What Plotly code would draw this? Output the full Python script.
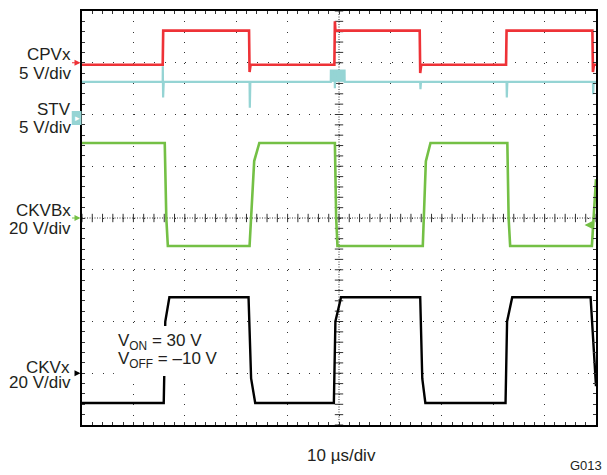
import numpy as np
import plotly.graph_objects as go

# ---------------- data (time in µs, amplitude in volts) ----------------
# Channel settings: volts per division and ground-marker offset (divisions from centre)
CPVX_VDIV, CPVX_OFFSET = 5.0, 3.0
STV_VDIV, STV_OFFSET = 5.0, 1.95
CKVB_VDIV, CKVB_OFFSET = 20.0, 0.0
CKV_VDIV, CKV_OFFSET = 20.0, -3.0

CPVX_T = [0, 15.7, 15.8, 32.5, 32.6, 32.8, 49.1, 49.2, 49.3, 65.7, 65.8, 66.0,
          82.5, 82.6, 99.3, 99.4, 99.6, 100]
CPVX_V = [-0.2, -0.2, 3.1, 3.1, -0.9, -0.2, -0.2, 4.0, 3.1, 3.1, -1.0, -0.2,
          -0.2, 3.1, 3.1, -0.9, -0.2, -0.2]

STV_T = [0, 15.7, 15.72, 15.78, 15.9, 32.6, 32.65, 32.75, 48.4, 48.42, 49.15, 49.2,
         49.25, 51.08, 51.1, 65.8, 65.85, 65.95, 82.6, 82.65, 82.75, 99.4, 99.45,
         99.55, 100]
STV_V = [3.4, 3.4, 4.9, 1.9, 3.4, 3.4, 0.9, 3.4, 3.4, 4.5, 4.5, 2.8,
         4.5, 4.5, 3.4, 3.4, 2.7, 3.4, 3.4, 1.9, 3.4, 3.4, 2.2,
         3.4, 3.4]
STV_BURST_T = [48.4, 51.1, 51.1, 48.4]
STV_BURST_V = [3.4, 3.4, 4.5, 4.5]

CKVB_T = [0, 16.1, 16.4, 16.7, 32.6, 33.5, 34.5, 49.2, 49.45, 49.7, 66.3, 66.9,
          67.8, 82.75, 83.0, 83.3, 99.2, 100]
CKVB_V = [29.0, 29.0, 0.0, -10.8, -10.8, 22.0, 29.0, 29.0, 0.0, -10.8, -10.8, 22.0,
          29.0, 29.0, 0.0, -10.8, -10.8, 15.0]

CKV_T = [0, 15.9, 16.2, 17.0, 32.4, 32.9, 33.7, 49.0, 49.3, 50.4, 65.8, 66.2,
         66.8, 82.4, 82.7, 83.7, 98.95, 100]
CKV_V = [-11.5, -11.5, 20.0, 29.4, 29.4, -2.0, -11.5, -11.5, 20.0, 29.4, 29.4, -2.0,
         -11.5, -11.5, 20.0, 29.4, 29.4, -5.0]

X_LABEL = "10 µs/div"
FIG_ID = "G013"

# ---------------- figure ----------------
W, H = 607, 475
ML, MR, MT, MB = 82, 9, 11, 50
PW, PH = W - ML - MR, H - MT - MB

FONT = "Liberation Sans, Arial, Helvetica, sans-serif"
TXT = "#231f20"
RED, CYAN, GREEN, BLACK = "#ee3237", "#95d4d4", "#74c045", "#000000"


def to_div(v, vdiv, off):
    return [off + x / vdiv for x in v]


def py(p):  # pixel row -> paper y
    return 1 - (p - MT) / PH


def px(p):  # pixel column -> paper x
    return (p - ML) / PW


fig = go.Figure()

# graticule centre-line ticks
minor_x = np.arange(0, 100.001, 2.0)
minor_y = np.arange(-4, 4.001, 0.2)
fig.add_trace(go.Scatter(x=minor_x, y=[0] * len(minor_x), mode="markers",
                         marker=dict(symbol="line-ns", size=6, line=dict(width=1, color="#333")),
                         hoverinfo="skip", showlegend=False))
fig.add_trace(go.Scatter(x=[50] * len(minor_y), y=minor_y, mode="markers",
                         marker=dict(symbol="line-ew", size=6, line=dict(width=1, color="#333")),
                         hoverinfo="skip", showlegend=False))

fig.add_trace(go.Scatter(x=STV_BURST_T, y=to_div(STV_BURST_V, STV_VDIV, STV_OFFSET),
                         fill="toself", fillcolor=CYAN, mode="none",
                         hoverinfo="skip", showlegend=False))
fig.add_trace(go.Scatter(x=STV_T, y=to_div(STV_V, STV_VDIV, STV_OFFSET), mode="lines",
                         line=dict(color=CYAN, width=2.2), name="STV", showlegend=False))
fig.add_trace(go.Scatter(x=CPVX_T, y=to_div(CPVX_V, CPVX_VDIV, CPVX_OFFSET), mode="lines",
                         line=dict(color=RED, width=2.6), name="CPVx", showlegend=False))
fig.add_trace(go.Scatter(x=CKVB_T, y=to_div(CKVB_V, CKVB_VDIV, CKVB_OFFSET), mode="lines",
                         line=dict(color=GREEN, width=2.6), name="CKVBx", showlegend=False))
fig.add_trace(go.Scatter(x=CKV_T, y=to_div(CKV_V, CKV_VDIV, CKV_OFFSET), mode="lines",
                         line=dict(color=BLACK, width=2.4), name="CKVx", showlegend=False))

# centre lines (dense dotted)
fig.add_shape(type="line", xref="x", yref="y", x0=0, x1=100, y0=0, y1=0,
              line=dict(color="#333", width=1, dash="1px,1.5px"), layer="below")
fig.add_shape(type="line", xref="x", yref="y", x0=50, x1=50, y0=-4, y1=4,
              line=dict(color="#333", width=1, dash="1px,1.5px"), layer="below")

# STV ground marker box
fig.add_shape(type="rect", xref="paper", yref="paper",
              x0=px(71.7), x1=px(81.5), y0=py(125), y1=py(111),
              fillcolor=CYAN, line=dict(width=0))

# white backing behind the V_ON / V_OFF note
fig.add_shape(type="rect", xref="paper", yref="paper", layer="above",
              x0=px(114), x1=px(224), y0=py(376), y1=py(326),
              fillcolor="white", line=dict(width=0))

annotations = []


def label(text, right, capc, size=17):
    annotations.append(dict(text=text, xref="paper", yref="paper", x=px(right), y=py(capc + 1),
                            xanchor="right", yanchor="middle", showarrow=False,
                            font=dict(size=size, color=TXT, family=FONT)))


label("CPVx", 72.7, 53.3)
label("5 V/div", 72.7, 72.5)
label("STV", 72.7, 109)
label("5 V/div", 72.7, 126.5)
label("CKVBx", 72.7, 209)
label("20 V/div", 72.7, 227)
label("CKVx", 71.6, 366)
label("20 V/div", 73.2, 381.5)

for txt, capc in [("V<sub>ON</sub> = 30 V", 340.6), ("V<sub>OFF</sub> = \u201310 V", 358.9)]:
    annotations.append(dict(text=txt, xref="paper", yref="paper", x=px(116.5), y=py(capc + 1),
                            xanchor="left", yanchor="middle", showarrow=False,
                            font=dict(size=17, color=TXT, family=FONT)))

annotations.append(dict(text=X_LABEL, xref="paper", yref="paper", x=px(342.7), y=py(455),
                        xanchor="center", yanchor="middle", showarrow=False,
                        font=dict(size=17, color=TXT, family=FONT)))
annotations.append(dict(text=FIG_ID, xref="paper", yref="paper", x=px(606), y=py(475),
                        xanchor="right", yanchor="bottom", showarrow=False,
                        font=dict(size=13, color=TXT, family=FONT)))

# STV marker glyph
annotations.append(dict(text="\u25b8", xref="paper", yref="paper", x=px(77), y=py(118),
                        xanchor="center", yanchor="middle", showarrow=False,
                        font=dict(size=9, color="white", family="DejaVu Sans")))

# ground arrows
for color, yd, length in [(RED, CPVX_OFFSET, 10), (GREEN, CKVB_OFFSET, 10), (BLACK, CKV_OFFSET, 6)]:
    annotations.append(dict(text="", xref="paper", yref="y", x=px(80.5), y=yd,
                            showarrow=True, ax=-length, ay=0, arrowcolor=color,
                            arrowhead=2, arrowsize=1, arrowwidth=1.2))
# trigger-level arrow (right)
annotations.append(dict(text="", xref="paper", yref="y", x=px(586.5), y=(218 - 225) / (PH / 8),
                        showarrow=True, ax=11, ay=0, arrowcolor=GREEN,
                        arrowhead=2, arrowsize=1, arrowwidth=1.5))

axis_common = dict(showline=True, linecolor="black", linewidth=2, mirror="allticks",
                   ticks="inside", ticklen=3, tickcolor="#333", tickwidth=1,
                   showticklabels=False, zeroline=False, fixedrange=True,
                   showgrid=True, gridcolor="#333", gridwidth=1)

fig.update_layout(
    width=W, height=H,
    margin=dict(l=ML, r=MR, t=MT, b=MB),
    paper_bgcolor="white", plot_bgcolor="white",
    showlegend=False,
    xaxis=dict(range=[0, 100], dtick=10, griddash="1px,9.35px",
               minor=dict(dtick=2, ticks="inside", ticklen=3, tickcolor="#333", showgrid=False),
               **axis_common),
    yaxis=dict(range=[-4, 4], dtick=1, griddash="1px,9.32px",
               minor=dict(dtick=0.2, ticks="inside", ticklen=3, tickcolor="#333", showgrid=False),
               **axis_common),
    annotations=annotations,
)

fig.write_html("out.html", config={"displayModeBar": False},
               post_script="document.body.style.margin='0';document.body.style.overflow='hidden';")
